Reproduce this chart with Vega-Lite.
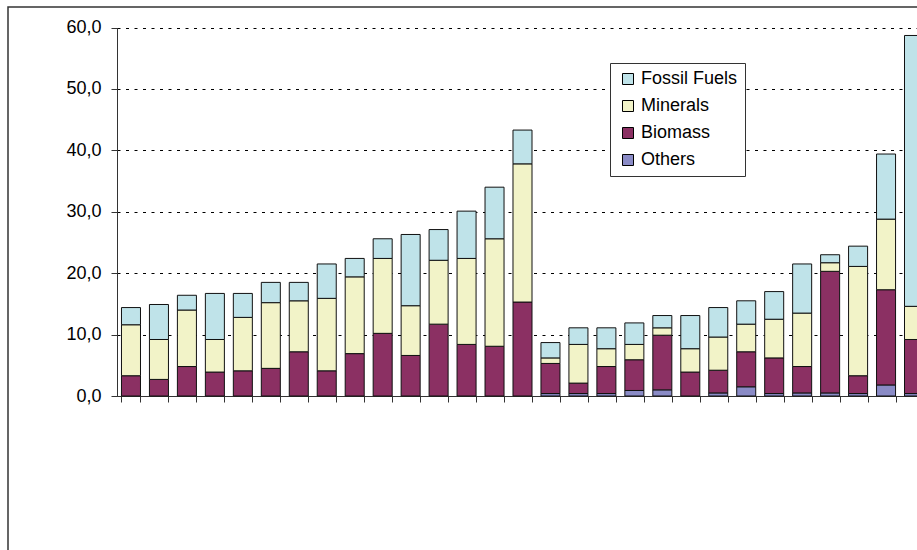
{
  "$schema": "https://vega.github.io/schema/vega-lite/v6.json",
  "width": 910,
  "height": 544,
  "autosize": "none",
  "padding": {"left": 8, "top": 7, "right": -1, "bottom": -1},
  "background": "white",
  "config": {
    "view": {"stroke": "#333", "strokeWidth": 1.5},
    "font": "Liberation Sans"
  },
  "datasets": {
    "series": [
      {"source": "Others", "stackRank": 1},
      {"source": "Biomass", "stackRank": 2},
      {"source": "Minerals", "stackRank": 3},
      {"source": "Fossil Fuels", "stackRank": 4}
    ]
  },
  "data": {
    "values": [
      {"item": 1, "source": "Biomass", "value": 3.3},
      {"item": 1, "source": "Minerals", "value": 8.3},
      {"item": 1, "source": "Fossil Fuels", "value": 2.8},
      {"item": 2, "source": "Biomass", "value": 2.7},
      {"item": 2, "source": "Minerals", "value": 6.5},
      {"item": 2, "source": "Fossil Fuels", "value": 5.7},
      {"item": 3, "source": "Biomass", "value": 4.8},
      {"item": 3, "source": "Minerals", "value": 9.2},
      {"item": 3, "source": "Fossil Fuels", "value": 2.4},
      {"item": 4, "source": "Biomass", "value": 3.9},
      {"item": 4, "source": "Minerals", "value": 5.3},
      {"item": 4, "source": "Fossil Fuels", "value": 7.5},
      {"item": 5, "source": "Biomass", "value": 4.1},
      {"item": 5, "source": "Minerals", "value": 8.7},
      {"item": 5, "source": "Fossil Fuels", "value": 3.9},
      {"item": 6, "source": "Biomass", "value": 4.5},
      {"item": 6, "source": "Minerals", "value": 10.7},
      {"item": 6, "source": "Fossil Fuels", "value": 3.3},
      {"item": 7, "source": "Biomass", "value": 7.2},
      {"item": 7, "source": "Minerals", "value": 8.3},
      {"item": 7, "source": "Fossil Fuels", "value": 3.0},
      {"item": 8, "source": "Biomass", "value": 4.1},
      {"item": 8, "source": "Minerals", "value": 11.8},
      {"item": 8, "source": "Fossil Fuels", "value": 5.6},
      {"item": 9, "source": "Biomass", "value": 6.9},
      {"item": 9, "source": "Minerals", "value": 12.5},
      {"item": 9, "source": "Fossil Fuels", "value": 3.0},
      {"item": 10, "source": "Biomass", "value": 10.2},
      {"item": 10, "source": "Minerals", "value": 12.2},
      {"item": 10, "source": "Fossil Fuels", "value": 3.2},
      {"item": 11, "source": "Biomass", "value": 6.6},
      {"item": 11, "source": "Minerals", "value": 8.1},
      {"item": 11, "source": "Fossil Fuels", "value": 11.6},
      {"item": 12, "source": "Biomass", "value": 11.7},
      {"item": 12, "source": "Minerals", "value": 10.4},
      {"item": 12, "source": "Fossil Fuels", "value": 5.0},
      {"item": 13, "source": "Biomass", "value": 8.4},
      {"item": 13, "source": "Minerals", "value": 14.0},
      {"item": 13, "source": "Fossil Fuels", "value": 7.7},
      {"item": 14, "source": "Biomass", "value": 8.1},
      {"item": 14, "source": "Minerals", "value": 17.5},
      {"item": 14, "source": "Fossil Fuels", "value": 8.4},
      {"item": 15, "source": "Biomass", "value": 15.3},
      {"item": 15, "source": "Minerals", "value": 22.5},
      {"item": 15, "source": "Fossil Fuels", "value": 5.5},
      {"item": 16, "source": "Others", "value": 0.4},
      {"item": 16, "source": "Biomass", "value": 4.9},
      {"item": 16, "source": "Minerals", "value": 0.9},
      {"item": 16, "source": "Fossil Fuels", "value": 2.5},
      {"item": 17, "source": "Others", "value": 0.4},
      {"item": 17, "source": "Biomass", "value": 1.7},
      {"item": 17, "source": "Minerals", "value": 6.3},
      {"item": 17, "source": "Fossil Fuels", "value": 2.7},
      {"item": 18, "source": "Others", "value": 0.4},
      {"item": 18, "source": "Biomass", "value": 4.4},
      {"item": 18, "source": "Minerals", "value": 2.9},
      {"item": 18, "source": "Fossil Fuels", "value": 3.4},
      {"item": 19, "source": "Others", "value": 0.9},
      {"item": 19, "source": "Biomass", "value": 5.0},
      {"item": 19, "source": "Minerals", "value": 2.5},
      {"item": 19, "source": "Fossil Fuels", "value": 3.5},
      {"item": 20, "source": "Others", "value": 1.0},
      {"item": 20, "source": "Biomass", "value": 8.9},
      {"item": 20, "source": "Minerals", "value": 1.2},
      {"item": 20, "source": "Fossil Fuels", "value": 2.0},
      {"item": 21, "source": "Biomass", "value": 3.9},
      {"item": 21, "source": "Minerals", "value": 3.8},
      {"item": 21, "source": "Fossil Fuels", "value": 5.4},
      {"item": 22, "source": "Others", "value": 0.5},
      {"item": 22, "source": "Biomass", "value": 3.7},
      {"item": 22, "source": "Minerals", "value": 5.4},
      {"item": 22, "source": "Fossil Fuels", "value": 4.8},
      {"item": 23, "source": "Others", "value": 1.5},
      {"item": 23, "source": "Biomass", "value": 5.7},
      {"item": 23, "source": "Minerals", "value": 4.5},
      {"item": 23, "source": "Fossil Fuels", "value": 3.8},
      {"item": 24, "source": "Others", "value": 0.4},
      {"item": 24, "source": "Biomass", "value": 5.8},
      {"item": 24, "source": "Minerals", "value": 6.3},
      {"item": 24, "source": "Fossil Fuels", "value": 4.5},
      {"item": 25, "source": "Others", "value": 0.5},
      {"item": 25, "source": "Biomass", "value": 4.3},
      {"item": 25, "source": "Minerals", "value": 8.7},
      {"item": 25, "source": "Fossil Fuels", "value": 8.0},
      {"item": 26, "source": "Others", "value": 0.5},
      {"item": 26, "source": "Biomass", "value": 19.8},
      {"item": 26, "source": "Minerals", "value": 1.4},
      {"item": 26, "source": "Fossil Fuels", "value": 1.3},
      {"item": 27, "source": "Others", "value": 0.4},
      {"item": 27, "source": "Biomass", "value": 2.9},
      {"item": 27, "source": "Minerals", "value": 17.8},
      {"item": 27, "source": "Fossil Fuels", "value": 3.3},
      {"item": 28, "source": "Others", "value": 1.8},
      {"item": 28, "source": "Biomass", "value": 15.5},
      {"item": 28, "source": "Minerals", "value": 11.5},
      {"item": 28, "source": "Fossil Fuels", "value": 10.6},
      {"item": 29, "source": "Others", "value": 0.4},
      {"item": 29, "source": "Biomass", "value": 8.8},
      {"item": 29, "source": "Minerals", "value": 5.4},
      {"item": 29, "source": "Fossil Fuels", "value": 44.1}
    ]
  },
  "transform": [
    {
      "lookup": "source",
      "from": {"data": {"name": "series"}, "key": "source", "fields": ["stackRank"]}
    }
  ],
  "mark": {"type": "bar", "stroke": "#111", "strokeWidth": 1},
  "encoding": {
    "x": {
      "field": "item",
      "type": "ordinal",
      "scale": {"range": [109, 920], "paddingInner": 0.32, "paddingOuter": 0.16},
      "axis": {
        "orient": "bottom",
        "offset": -155,
        "labels": false,
        "title": null,
        "tickBand": "extent",
        "tickSize": 6,
        "tickColor": "#333",
        "domainColor": "#333",
        "grid": false
      }
    },
    "y": {
      "field": "value",
      "type": "quantitative",
      "stack": "zero",
      "scale": {"domain": [0, 60], "range": [389, 20.5], "nice": false},
      "axis": {
        "orient": "left",
        "offset": -109,
        "values": [0, 10, 20, 30, 40, 50, 60],
        "labelExpr": "replace(format(datum.value, '.1f'), '.', ',')",
        "title": null,
        "tickSize": 6,
        "labelPadding": 10,
        "labelFontSize": 18,
        "labelFont": "Liberation Sans",
        "labelColor": "#000",
        "domainColor": "#333",
        "tickColor": "#333",
        "grid": true,
        "gridColor": "#000",
        "gridDash": [3, 5.5],
        "gridWidth": 1
      }
    },
    "order": {"field": "stackRank", "type": "quantitative", "sort": "ascending"},
    "color": {
      "field": "source",
      "type": "nominal",
      "scale": {
        "domain": ["Fossil Fuels", "Minerals", "Biomass", "Others"],
        "range": ["#BFE3E9", "#F2F3C8", "#8B3063", "#8A8BC6"]
      },
      "legend": {
        "title": null,
        "orient": "none",
        "legendX": 602,
        "legendY": 56,
        "symbolType": "square",
        "symbolSize": 121,
        "symbolStrokeColor": "#000",
        "symbolStrokeWidth": 1,
        "labelFontSize": 18,
        "labelFont": "Liberation Sans",
        "labelColor": "#000",
        "labelOffset": 4,
        "symbolOffset": 2,
        "rowPadding": 9,
        "padding": 7,
        "strokeColor": "#333",
        "fillColor": "#fff",
        "labelLimit": 300
      }
    }
  }
}
